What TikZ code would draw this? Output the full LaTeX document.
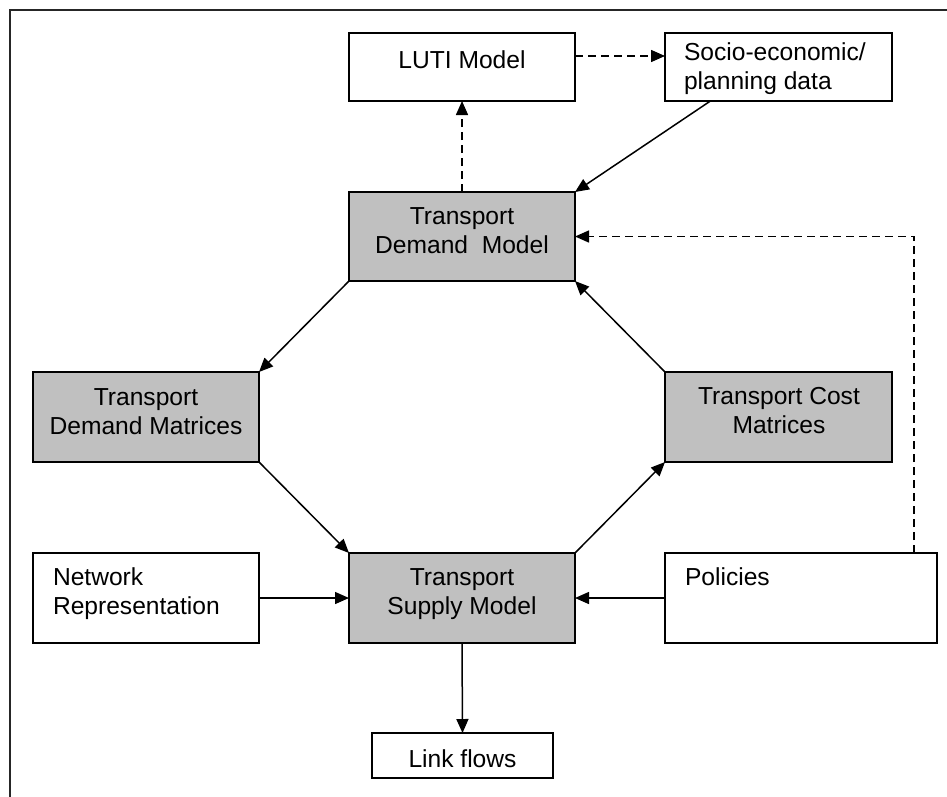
\documentclass[tikz,border=0pt]{standalone}
\usepackage{fontspec}
\setmainfont{Liberation Sans}
\usetikzlibrary{arrows.meta,calc}
\definecolor{boxgrey}{HTML}{C0C0C0}
\begin{document}
\begin{tikzpicture}[x=1pt,y=-1pt,
  box/.style={draw=black,line width=1.8pt,minimum width=226pt,minimum height=90pt,inner sep=0pt,outer sep=0pt,anchor=center},
  greybox/.style={box,fill=boxgrey},
  lbl/.style={inner sep=0pt,outer sep=0pt,anchor=base,font=\fontsize{24.6}{29}\selectfont},
  lbll/.style={lbl,anchor=base west},
  conn/.style={line width=1.5pt,-{Triangle[length=14pt,width=12pt]}},
  dconn/.style={conn,dash pattern=on 8pt off 5pt}]
\useasboundingbox (0,0) rectangle (947,796);
\fill[white] (0,0) rectangle (947,796);
% outer frame
\draw[line width=1.8pt,black!85] (10,800) -- (10,10) -- (950,10);

% boxes
\node[box,minimum height=68pt] (luti) at (462,67) {};
\node[box,minimum width=227pt,minimum height=68pt] (socio) at (778.5,67) {};
\node[greybox,minimum height=89pt] (tdm) at (462,236.5) {};
\node[greybox] (tdmat) at (146,417) {};
\node[greybox,minimum width=227pt] (tcm) at (778.5,417) {};
\node[greybox] (tsm) at (462,598) {};
\node[box] (net) at (146,598) {};
\node[box,minimum width=272pt] (pol) at (801,598) {};
\node[box,minimum width=181pt,minimum height=45pt] (link) at (462.5,755.5) {};

% labels
\node[lbl] (lutit) at (462,68) {LUTI Model};
\node[lbll] (sociot) at (684,60) {\begin{tabular}[t]{@{}l@{}}Socio-economic/\\planning data\end{tabular}};
\node[lbl] (tdmt) at (462,224) {\begin{tabular}[t]{@{}c@{}}Transport\\Demand\ \ Model\end{tabular}};
\node[lbl] (tdmatt) at (146,405) {\begin{tabular}[t]{@{}c@{}}Transport\\Demand Matrices\end{tabular}};
\node[lbl] (tcmt) at (779,404) {\begin{tabular}[t]{@{}c@{}}Transport Cost\\Matrices\end{tabular}};
\node[lbl] (tsmt) at (462,585) {\begin{tabular}[t]{@{}c@{}}Transport\\Supply Model\end{tabular}};
\node[lbll] (nett) at (53,585) {\begin{tabular}[t]{@{}l@{}}Network\\Representation\end{tabular}};
\node[lbll] (polt) at (685,585) {Policies};
\node[lbl] (linkt) at (462.5,767) {Link flows};

% connectors
\draw[dconn] ([yshift=11pt]luti.east) -- ([yshift=11pt]socio.west);
\draw[dconn] (tdm.north) -- (luti.south);
\draw[conn] ($(socio.south west)!0.2!(socio.south east)$) -- (tdm.north east);
\draw[dconn] ([xshift=-23pt]pol.north east) |- (tdm.east);
\draw[conn] (tdm.south west) -- (tdmat.north east);
\draw[conn] (tdmat.south east) -- (tsm.north west);
\draw[conn] (tsm.north east) -- (tcm.south west);
\draw[conn] (tcm.north west) -- (tdm.south east);
\draw[conn] (net.east) -- (tsm.west);
\draw[conn] (pol.west) -- (tsm.east);
\draw[conn] (tsm.south) -- (link.north);
\end{tikzpicture}
\end{document}
